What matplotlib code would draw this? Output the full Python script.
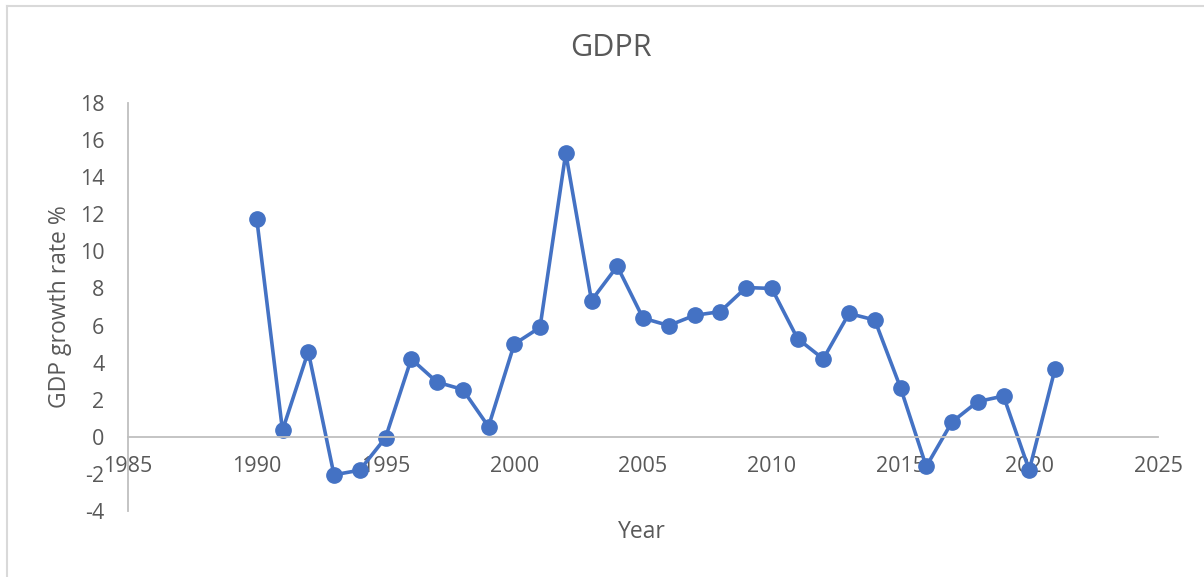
import numpy as np
import matplotlib.pyplot as plt
from matplotlib.lines import Line2D

years = list(range(1990, 2022))
gdp_growth = [11.75, 0.35, 4.6, -2.05, -1.8, -0.05, 4.2, 2.95, 2.55, 0.55,
              5.0, 5.9, 15.3, 7.35, 9.2, 6.4, 6.0, 6.55, 6.75, 8.05,
              8.0, 5.3, 4.2, 6.65, 6.3, 2.65, -1.6, 0.8, 1.9, 2.2,
              -1.8, 3.65]

plt.rcParams['font.family'] = ['Open Sans', 'DejaVu Sans']
plt.rcParams['axes.unicode_minus'] = False
txt = '#595959'
axc = '#BFBFBF'

fig = plt.figure(figsize=(12.04, 5.77), dpi=100)
ax = fig.add_axes([128/1204, 1 - 511/577, (1158-128)/1204, (511-103)/577])

ax.plot(years, gdp_growth, '-o', color='#4472C4', lw=2.6, ms=11)

ax.set_xlim(1985, 2025)
ax.set_ylim(-4, 18)
ax.set_xticks(np.arange(1985, 2026, 5))
ax.set_yticks(np.arange(-4, 19, 2))

for s in ['top', 'right']:
    ax.spines[s].set_visible(False)
ax.spines['bottom'].set_position(('data', 0))
ax.spines['bottom'].set_color(axc)
ax.spines['left'].set_color(axc)
ax.spines['bottom'].set_linewidth(1.3)
ax.spines['left'].set_linewidth(1.3)
ax.tick_params(axis='both', length=0, labelsize=15.5, labelcolor=txt)
ax.tick_params(axis='x', pad=14)
ax.tick_params(axis='y', pad=17)

# title, axis labels placed in figure pixels
fig.text(611/1204, 1 - 48/577, 'GDPR', fontsize=22, color=txt,
         ha='center', va='center')
fig.text(642/1204, 1 - 532/577, 'Year', fontsize=16.5, color=txt,
         ha='center', va='center')
fig.text(60/1204, 1 - 307/577, 'GDP growth rate %', fontsize=16.5, color=txt,
         ha='center', va='center', rotation=90)

# chart frame (top and left edges visible in the crop)
fig.add_artist(Line2D([7/1204, 1], [1 - 6/577, 1 - 6/577], color='#D9D9D9', lw=1.5))
fig.add_artist(Line2D([7/1204, 7/1204], [0, 1 - 6/577], color='#D9D9D9', lw=1.5))

fig.savefig('out.png', dpi=100)
